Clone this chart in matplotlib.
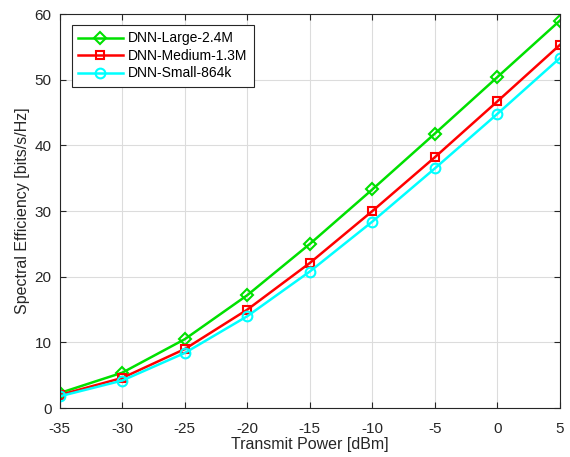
import matplotlib
matplotlib.use('Agg')
import matplotlib.pyplot as plt

# Datos
power = [-35, -30, -25, -20, -15, -10, -5, 0, 5]
se_large = [2.3, 5.4, 10.5, 17.2, 25.0, 33.3, 41.8, 50.4, 59.0]
se_medium = [2.0, 4.6, 9.0, 15.0, 22.1, 30.0, 38.2, 46.7, 55.3]
se_small = [1.8, 4.2, 8.4, 14.0, 20.8, 28.4, 36.5, 44.8, 53.3]

plt.rcParams['font.family'] = ['Liberation Sans', 'DejaVu Sans']
plt.rcParams['axes.unicode_minus'] = False

fig = plt.figure(figsize=(5.7, 4.57), dpi=100)
ax = fig.add_axes([0.105, 0.107, 0.877, 0.862])

ax.plot(power, se_large, color='#00e000', marker='D', markersize=6, markerfacecolor='none',
        markeredgewidth=1.5, linewidth=1.8, label='DNN-Large-2.4M')
ax.plot(power, se_medium, color='#ff0000', marker='s', markersize=6, markerfacecolor='none',
        markeredgewidth=1.5, linewidth=1.8, label='DNN-Medium-1.3M')
ax.plot(power, se_small, color='#00ffff', marker='o', markersize=7, markerfacecolor='none',
        markeredgewidth=1.5, linewidth=1.8, label='DNN-Small-864k')

ax.set_xlim(-35, 5)
ax.set_ylim(0, 60)
ax.set_xticks(range(-35, 6, 5))
ax.set_yticks(range(0, 61, 10))
ax.grid(True, color='#dcdcdc', linewidth=0.8)
ax.set_axisbelow(True)
ax.tick_params(direction='in', top=True, right=True, labelsize=11, colors='#262626', length=4)
ax.tick_params(axis='x', pad=10)
ax.tick_params(axis='y', pad=6)
for s in ax.spines.values():
    s.set_color('#262626')
    s.set_linewidth(0.8)

ax.set_xlabel('Transmit Power [dBm]', fontsize=11.5, color='#262626', labelpad=1)
ax.set_ylabel('Spectral Efficiency [bits/s/Hz]', fontsize=11.5, color='#262626', labelpad=3)

leg = ax.legend(loc='upper left', fontsize=10, fancybox=False, edgecolor='#262626',
                framealpha=1, handlelength=3.2, handletextpad=0.4, borderpad=0.45,
                labelspacing=0.25, borderaxespad=0, bbox_to_anchor=(0.024, 0.972))
leg.get_frame().set_linewidth(0.8)

fig.savefig('out.png', dpi=100)
